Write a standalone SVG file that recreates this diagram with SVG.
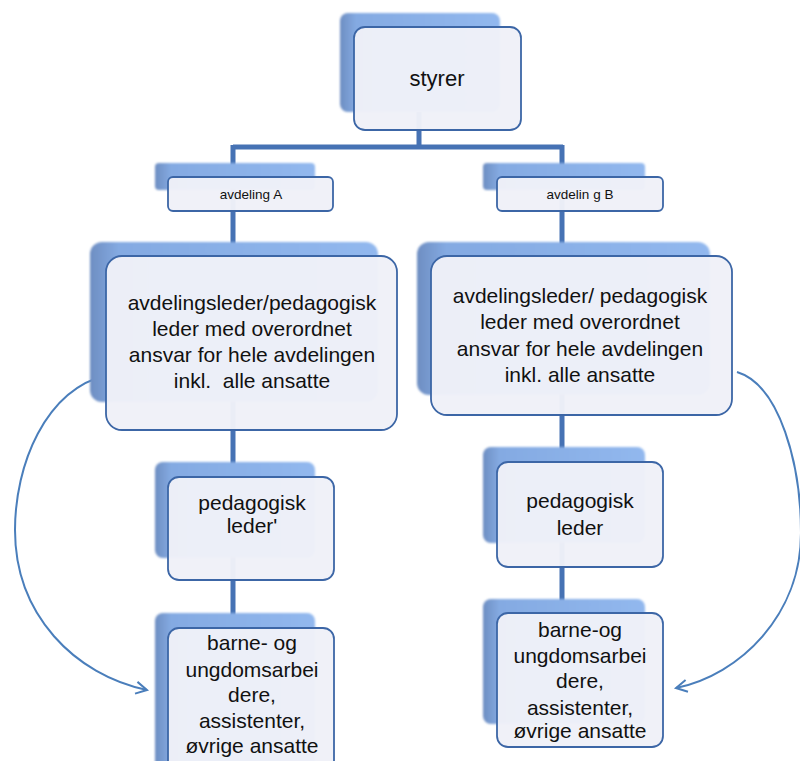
<svg xmlns="http://www.w3.org/2000/svg" width="800" height="761" viewBox="0 0 800 761">
<style>
.back{fill:url(#bg);filter:url(#blur)}
.front{fill:#EFF1F8;fill-opacity:0.97;stroke:#3C66A6;stroke-width:1.8}
.t{font-family:"Liberation Sans",Arial,sans-serif;fill:#111;text-anchor:middle}
.big{font-size:21px}
.small{font-size:13.5px}
.conn{fill:none;stroke:#4672B4;stroke-width:5}
.arc{fill:none;stroke:#4A7EBB;stroke-width:2}
</style>
<defs>
<linearGradient id="bg" x1="0" y1="0" x2="1" y2="0">
<stop offset="0" stop-color="#6E8EC2"/>
<stop offset="0.1" stop-color="#84AAE2"/>
<stop offset="1" stop-color="#92B8EE"/>
</linearGradient>
<filter id="blur" x="-10%" y="-10%" width="120%" height="120%"><feGaussianBlur stdDeviation="1.2"/></filter>
<marker id="open" viewBox="0 0 14 14" refX="12" refY="7" markerWidth="14" markerHeight="14" markerUnits="userSpaceOnUse" orient="auto">
<polyline points="1,1 12,7 1,13" fill="none" stroke="#4A7EBB" stroke-width="2"/>
</marker>
</defs>
<rect width="800" height="761" fill="#fff"/>
<g id="connectors">
<path class="conn" d="M419,112 V147 M233,147 H563 M233,145 V630 M562,145 V615"/>
<path class="arc" d="M107,375 C45,390 15,465 15,530 C15,615 75,675 147,690" marker-end="url(#open)"/>
<path class="arc" d="M737,372 C780,385 801,465 801,533 C801,615 740,675 676,688" marker-end="url(#open)"/>
</g>
<g id="styrer">
<rect class="back" x="340" y="13" width="160" height="99" rx="8"/>
<rect class="front" x="354" y="27" width="167" height="103" rx="11"/>
<text class="t" x="437" y="86" font-size="22">styrer</text>
</g>
<g id="avdelingA">
<rect class="back" x="155" y="163" width="160" height="27" rx="4"/>
<rect class="front" x="168" y="177" width="165" height="34" rx="5"/>
<text class="t small" x="251" y="199">avdeling A</text>
</g>
<g id="avdelingB">
<rect class="back" x="483" y="163" width="162" height="27" rx="4"/>
<rect class="front" x="497" y="177" width="166" height="34" rx="5"/>
<text class="t small" x="580" y="199">avdelin g B</text>
</g>
<g id="lederA">
<rect class="back" x="90" y="242" width="288" height="160" rx="12"/>
<rect class="front" x="106" y="256" width="291" height="174" rx="16"/>
<text class="t big" x="252" y="310">avdelingsleder/pedagogisk</text>
<text class="t big" x="252" y="336">leder med overordnet</text>
<text class="t big" x="252" y="362">ansvar for hele avdelingen</text>
<text class="t big" x="252" y="388">inkl.&#160; alle ansatte</text>
</g>
<g id="lederB">
<rect class="back" x="417" y="242" width="293" height="153" rx="12"/>
<rect class="front" x="431" y="256" width="301" height="159" rx="16"/>
<text class="t big" x="580" y="303">avdelingsleder/ pedagogisk</text>
<text class="t big" x="580" y="329">leder med overordnet</text>
<text class="t big" x="580" y="356">ansvar for hele avdelingen</text>
<text class="t big" x="580" y="382">inkl. alle ansatte</text>
</g>
<g id="pedA">
<rect class="back" x="155" y="462" width="160" height="96" rx="8"/>
<rect class="front" x="168" y="477" width="166" height="103" rx="11"/>
<text class="t big" x="252" y="510">pedagogisk</text>
<text class="t big" x="252" y="533">leder'</text>
</g>
<g id="pedB">
<rect class="back" x="483" y="447" width="162" height="96" rx="8"/>
<rect class="front" x="497" y="462" width="166" height="105" rx="11"/>
<text class="t big" x="580" y="508">pedagogisk</text>
<text class="t big" x="580" y="535">leder</text>
</g>
<g id="barneA">
<rect class="back" x="155" y="613" width="160" height="160" rx="8"/>
<rect class="front" x="168" y="628" width="166" height="145" rx="11"/>
<text class="t big" x="252" y="650">barne- og</text>
<text class="t big" x="252" y="677">ungdomsarbei</text>
<text class="t big" x="252" y="702">dere,</text>
<text class="t big" x="252" y="728">assistenter,</text>
<text class="t big" x="252" y="753">øvrige ansatte</text>
</g>
<g id="barneB">
<rect class="back" x="483" y="599" width="162" height="125" rx="8"/>
<rect class="front" x="497" y="613" width="166" height="134" rx="11"/>
<text class="t big" x="580" y="637">barne-og</text>
<text class="t big" x="580" y="663">ungdomsarbei</text>
<text class="t big" x="580" y="688">dere,</text>
<text class="t big" x="580" y="715">assistenter,</text>
<text class="t big" x="580" y="738">øvrige ansatte</text>
</g>
</svg>
